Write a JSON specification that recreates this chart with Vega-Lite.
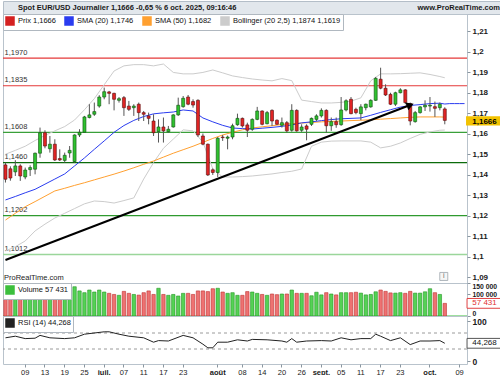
{
"$schema":"https://vega.github.io/schema/vega-lite/v6.json",
"padding":0,
"background":"#ffffff",
"spacing":0,
"bounds":"flush",
"config":{
 "font":"Liberation Sans",
 "view":{"stroke":"#b9c3cc"},
 "axis":{"labelFont":"Liberation Sans","labelFontSize":8,"labelColor":"#1a1a1a","tickColor":"#8a96a0","tickSize":3,"domain":false,"grid":false,"labelPadding":2,"labelOverlap":false},
 "legend":{"orient":"top-left","direction":"horizontal","offset":0,"padding":2,"fillColor":"#ffffff","strokeColor":"#b0b8c0","labelFont":"Liberation Sans","labelFontSize":7.5,"labelColor":"#111111","columnPadding":6,"labelOffset":3,"cornerRadius":0}
},
"datasets":{
 "ohlc":[
  {"d":"2025-06-03","o":1.1449,"h":1.1460,"l":1.1363,"c":1.1379,"v":110000},
  {"d":"2025-06-04","o":1.1430,"h":1.1442,"l":1.1372,"c":1.1385,"v":105000},
  {"d":"2025-06-05","o":1.1415,"h":1.1472,"l":1.1395,"c":1.1444,"v":100000},
  {"d":"2025-06-06","o":1.1444,"h":1.1452,"l":1.1371,"c":1.1395,"v":108000},
  {"d":"2025-06-09","o":1.1390,"h":1.1436,"l":1.1379,"c":1.1424,"v":95000},
  {"d":"2025-06-10","o":1.1426,"h":1.1447,"l":1.1395,"c":1.1436,"v":98000},
  {"d":"2025-06-11","o":1.1428,"h":1.1509,"l":1.1403,"c":1.1506,"v":112000},
  {"d":"2025-06-12","o":1.1506,"h":1.1631,"l":1.1484,"c":1.1606,"v":125000},
  {"d":"2025-06-13","o":1.1606,"h":1.1618,"l":1.1530,"c":1.1541,"v":115000},
  {"d":"2025-06-16","o":1.1528,"h":1.1590,"l":1.1509,"c":1.1550,"v":100000},
  {"d":"2025-06-17","o":1.1550,"h":1.1574,"l":1.1468,"c":1.1473,"v":112000},
  {"d":"2025-06-18","o":1.1480,"h":1.1525,"l":1.1468,"c":1.1473,"v":98000},
  {"d":"2025-06-19","o":1.1471,"h":1.1509,"l":1.1460,"c":1.1496,"v":90000},
  {"d":"2025-06-20","o":1.1507,"h":1.1541,"l":1.1484,"c":1.1520,"v":100000},
  {"d":"2025-06-23","o":1.1465,"h":1.1598,"l":1.1460,"c":1.1595,"v":133000},
  {"d":"2025-06-24","o":1.1595,"h":1.1623,"l":1.1585,"c":1.1608,"v":114000},
  {"d":"2025-06-25","o":1.1608,"h":1.1688,"l":1.1606,"c":1.1683,"v":106000},
  {"d":"2025-06-26","o":1.1680,"h":1.1745,"l":1.1676,"c":1.1693,"v":118000},
  {"d":"2025-06-27","o":1.1696,"h":1.1753,"l":1.1688,"c":1.1709,"v":109000},
  {"d":"2025-06-30","o":1.1736,"h":1.1789,"l":1.1728,"c":1.1780,"v":118000},
  {"d":"2025-07-01","o":1.1780,"h":1.1826,"l":1.1769,"c":1.1806,"v":109000},
  {"d":"2025-07-02","o":1.1805,"h":1.1810,"l":1.1745,"c":1.1798,"v":103000},
  {"d":"2025-07-03","o":1.1798,"h":1.1801,"l":1.1715,"c":1.1769,"v":98000},
  {"d":"2025-07-04","o":1.1764,"h":1.1780,"l":1.1753,"c":1.1772,"v":94000},
  {"d":"2025-07-07","o":1.1777,"h":1.1785,"l":1.1688,"c":1.1728,"v":112000},
  {"d":"2025-07-08","o":1.1736,"h":1.1761,"l":1.1712,"c":1.1720,"v":103000},
  {"d":"2025-07-09","o":1.1728,"h":1.1745,"l":1.1688,"c":1.1736,"v":98000},
  {"d":"2025-07-10","o":1.1745,"h":1.1753,"l":1.1663,"c":1.1704,"v":95000},
  {"d":"2025-07-11","o":1.1704,"h":1.1712,"l":1.1663,"c":1.1696,"v":106000},
  {"d":"2025-07-14","o":1.1688,"h":1.1704,"l":1.1647,"c":1.1676,"v":114000},
  {"d":"2025-07-15","o":1.1663,"h":1.1696,"l":1.1590,"c":1.1606,"v":98000},
  {"d":"2025-07-16","o":1.1611,"h":1.1671,"l":1.1558,"c":1.1634,"v":126000},
  {"d":"2025-07-17","o":1.1634,"h":1.1680,"l":1.1558,"c":1.1615,"v":98000},
  {"d":"2025-07-18","o":1.1611,"h":1.1639,"l":1.1606,"c":1.1623,"v":94000},
  {"d":"2025-07-21","o":1.1634,"h":1.1696,"l":1.1631,"c":1.1693,"v":98000},
  {"d":"2025-07-22","o":1.1693,"h":1.1777,"l":1.1688,"c":1.1740,"v":91000},
  {"d":"2025-07-23","o":1.1733,"h":1.1785,"l":1.1728,"c":1.1774,"v":103000},
  {"d":"2025-07-24","o":1.1780,"h":1.1790,"l":1.1740,"c":1.1745,"v":103000},
  {"d":"2025-07-25","o":1.1758,"h":1.1769,"l":1.1728,"c":1.1741,"v":98000},
  {"d":"2025-07-28","o":1.1764,"h":1.1769,"l":1.1585,"c":1.1595,"v":114000},
  {"d":"2025-07-29","o":1.1590,"h":1.1602,"l":1.1545,"c":1.1550,"v":114000},
  {"d":"2025-07-30","o":1.1550,"h":1.1553,"l":1.1395,"c":1.1400,"v":111000},
  {"d":"2025-07-31","o":1.1425,"h":1.1432,"l":1.1400,"c":1.1412,"v":124000},
  {"d":"2025-08-01","o":1.1412,"h":1.1585,"l":1.1390,"c":1.1579,"v":126000},
  {"d":"2025-08-04","o":1.1585,"h":1.1595,"l":1.1566,"c":1.1582,"v":109000},
  {"d":"2025-08-05","o":1.1579,"h":1.1592,"l":1.1525,"c":1.1585,"v":103000},
  {"d":"2025-08-06","o":1.1585,"h":1.1650,"l":1.1574,"c":1.1640,"v":106000},
  {"d":"2025-08-07","o":1.1645,"h":1.1699,"l":1.1640,"c":1.1676,"v":94000},
  {"d":"2025-08-08","o":1.1676,"h":1.1680,"l":1.1631,"c":1.1639,"v":94000},
  {"d":"2025-08-11","o":1.1644,"h":1.1655,"l":1.1585,"c":1.1618,"v":111000},
  {"d":"2025-08-12","o":1.1623,"h":1.1676,"l":1.1615,"c":1.1671,"v":109000},
  {"d":"2025-08-13","o":1.1671,"h":1.1732,"l":1.1667,"c":1.1712,"v":103000},
  {"d":"2025-08-14","o":1.1712,"h":1.1715,"l":1.1642,"c":1.1647,"v":98000},
  {"d":"2025-08-15","o":1.1650,"h":1.1712,"l":1.1647,"c":1.1704,"v":94000},
  {"d":"2025-08-18","o":1.1715,"h":1.1720,"l":1.1639,"c":1.1663,"v":100000},
  {"d":"2025-08-19","o":1.1667,"h":1.1671,"l":1.1644,"c":1.1647,"v":97000},
  {"d":"2025-08-20","o":1.1642,"h":1.1680,"l":1.1631,"c":1.1655,"v":100000},
  {"d":"2025-08-21","o":1.1655,"h":1.1663,"l":1.1606,"c":1.1615,"v":100000},
  {"d":"2025-08-22","o":1.1618,"h":1.1745,"l":1.1611,"c":1.1715,"v":118000},
  {"d":"2025-08-25","o":1.1715,"h":1.1720,"l":1.1611,"c":1.1615,"v":103000},
  {"d":"2025-08-26","o":1.1618,"h":1.1647,"l":1.1610,"c":1.1634,"v":103000},
  {"d":"2025-08-27","o":1.1639,"h":1.1647,"l":1.1569,"c":1.1623,"v":103000},
  {"d":"2025-08-28","o":1.1647,"h":1.1680,"l":1.1639,"c":1.1676,"v":92000},
  {"d":"2025-08-29","o":1.1671,"h":1.1696,"l":1.1663,"c":1.1688,"v":108000},
  {"d":"2025-09-01","o":1.1688,"h":1.1725,"l":1.1680,"c":1.1715,"v":96000},
  {"d":"2025-09-02","o":1.1715,"h":1.1720,"l":1.1606,"c":1.1640,"v":106000},
  {"d":"2025-09-03","o":1.1640,"h":1.1680,"l":1.1615,"c":1.1660,"v":100000},
  {"d":"2025-09-04","o":1.1660,"h":1.1680,"l":1.1630,"c":1.1645,"v":96000},
  {"d":"2025-09-05","o":1.1645,"h":1.1780,"l":1.1640,"c":1.1717,"v":106000},
  {"d":"2025-09-08","o":1.1717,"h":1.1769,"l":1.1710,"c":1.1762,"v":106000},
  {"d":"2025-09-09","o":1.1769,"h":1.1780,"l":1.1696,"c":1.1699,"v":106000},
  {"d":"2025-09-10","o":1.1720,"h":1.1728,"l":1.1696,"c":1.1704,"v":108000},
  {"d":"2025-09-11","o":1.1699,"h":1.1745,"l":1.1667,"c":1.1732,"v":104000},
  {"d":"2025-09-12","o":1.1728,"h":1.1748,"l":1.1715,"c":1.1745,"v":96000},
  {"d":"2025-09-15","o":1.1732,"h":1.1769,"l":1.1728,"c":1.1764,"v":98000},
  {"d":"2025-09-16","o":1.1764,"h":1.1878,"l":1.1761,"c":1.1871,"v":110000},
  {"d":"2025-09-17","o":1.1867,"h":1.1923,"l":1.1818,"c":1.1823,"v":118000},
  {"d":"2025-09-18","o":1.1823,"h":1.1842,"l":1.1785,"c":1.1790,"v":112000},
  {"d":"2025-09-19","o":1.1793,"h":1.1801,"l":1.1741,"c":1.1745,"v":105000},
  {"d":"2025-09-22","o":1.1745,"h":1.1806,"l":1.1736,"c":1.1801,"v":104000},
  {"d":"2025-09-23","o":1.1801,"h":1.1823,"l":1.1798,"c":1.1815,"v":106000},
  {"d":"2025-09-24","o":1.1815,"h":1.1818,"l":1.1745,"c":1.1753,"v":103000},
  {"d":"2025-09-25","o":1.1748,"h":1.1753,"l":1.1642,"c":1.1663,"v":112000},
  {"d":"2025-09-26","o":1.1660,"h":1.1712,"l":1.1655,"c":1.1704,"v":104000},
  {"d":"2025-09-29","o":1.1704,"h":1.1736,"l":1.1699,"c":1.1732,"v":104000},
  {"d":"2025-09-30","o":1.1732,"h":1.1764,"l":1.1712,"c":1.1740,"v":110000},
  {"d":"2025-10-01","o":1.1736,"h":1.1780,"l":1.1709,"c":1.1740,"v":124000},
  {"d":"2025-10-02","o":1.1733,"h":1.1758,"l":1.1683,"c":1.1725,"v":106000},
  {"d":"2025-10-03","o":1.1728,"h":1.1753,"l":1.1715,"c":1.1745,"v":98000},
  {"d":"2025-10-06","o":1.1722,"h":1.1730,"l":1.1647,"c":1.1666,"v":57431}
 ],
 "ind":[
  {"d":"2025-06-03","s20":1.1278,"s50":1.1180,"bu":1.1501,"bl":1.1029},
  {"d":"2025-06-05","s20":1.1295,"s50":1.1213,"bu":1.1520,"bl":1.1050},
  {"d":"2025-06-09","s20":1.1313,"s50":1.1245,"bu":1.1540,"bl":1.1078},
  {"d":"2025-06-11","s20":1.1330,"s50":1.1270,"bu":1.1568,"bl":1.1127},
  {"d":"2025-06-13","s20":1.1355,"s50":1.1296,"bu":1.1593,"bl":1.1160},
  {"d":"2025-06-17","s20":1.1380,"s50":1.1322,"bu":1.1615,"bl":1.1190},
  {"d":"2025-06-19","s20":1.1405,"s50":1.1335,"bu":1.1636,"bl":1.1213},
  {"d":"2025-06-23","s20":1.1444,"s50":1.1349,"bu":1.1668,"bl":1.1236},
  {"d":"2025-06-25","s20":1.1483,"s50":1.1362,"bu":1.1718,"bl":1.1259},
  {"d":"2025-06-27","s20":1.1525,"s50":1.1376,"bu":1.1772,"bl":1.1273},
  {"d":"2025-07-01","s20":1.1566,"s50":1.1390,"bu":1.1840,"bl":1.1270},
  {"d":"2025-07-03","s20":1.1608,"s50":1.1404,"bu":1.1907,"bl":1.1263},
  {"d":"2025-07-07","s20":1.1641,"s50":1.1419,"bu":1.1932,"bl":1.1275},
  {"d":"2025-07-09","s20":1.1666,"s50":1.1435,"bu":1.1938,"bl":1.1288},
  {"d":"2025-07-11","s20":1.1685,"s50":1.1452,"bu":1.1938,"bl":1.1380},
  {"d":"2025-07-15","s20":1.1698,"s50":1.1468,"bu":1.1932,"bl":1.1460},
  {"d":"2025-07-17","s20":1.1703,"s50":1.1487,"bu":1.1941,"bl":1.1530},
  {"d":"2025-07-21","s20":1.1707,"s50":1.1506,"bu":1.1900,"bl":1.1575},
  {"d":"2025-07-23","s20":1.1717,"s50":1.1523,"bu":1.1893,"bl":1.1620},
  {"d":"2025-07-25","s20":1.1712,"s50":1.1540,"bu":1.1893,"bl":1.1615},
  {"d":"2025-07-29","s20":1.1678,"s50":1.1559,"bu":1.1900,"bl":1.1560},
  {"d":"2025-07-31","s20":1.1659,"s50":1.1578,"bu":1.1912,"bl":1.1430},
  {"d":"2025-08-04","s20":1.1642,"s50":1.1595,"bu":1.1898,"bl":1.1390},
  {"d":"2025-08-06","s20":1.1629,"s50":1.1608,"bu":1.1883,"bl":1.1390},
  {"d":"2025-08-08","s20":1.1626,"s50":1.1620,"bu":1.1875,"bl":1.1392},
  {"d":"2025-08-12","s20":1.1624,"s50":1.1629,"bu":1.1868,"bl":1.1395},
  {"d":"2025-08-14","s20":1.1628,"s50":1.1635,"bu":1.1863,"bl":1.1400},
  {"d":"2025-08-18","s20":1.1632,"s50":1.1640,"bu":1.1859,"bl":1.1405},
  {"d":"2025-08-20","s20":1.1637,"s50":1.1646,"bu":1.1870,"bl":1.1412},
  {"d":"2025-08-22","s20":1.1644,"s50":1.1650,"bu":1.1860,"bl":1.1418},
  {"d":"2025-08-26","s20":1.1654,"s50":1.1653,"bu":1.1765,"bl":1.1429},
  {"d":"2025-08-28","s20":1.1659,"s50":1.1656,"bu":1.1758,"bl":1.1540},
  {"d":"2025-09-01","s20":1.1665,"s50":1.1659,"bu":1.1751,"bl":1.1560},
  {"d":"2025-09-03","s20":1.1670,"s50":1.1661,"bu":1.1751,"bl":1.1565},
  {"d":"2025-09-05","s20":1.1674,"s50":1.1663,"bu":1.1754,"bl":1.1566},
  {"d":"2025-09-09","s20":1.1676,"s50":1.1665,"bu":1.1760,"bl":1.1566},
  {"d":"2025-09-11","s20":1.1678,"s50":1.1667,"bu":1.1776,"bl":1.1566},
  {"d":"2025-09-15","s20":1.1691,"s50":1.1669,"bu":1.1859,"bl":1.1560},
  {"d":"2025-09-17","s20":1.1705,"s50":1.1672,"bu":1.1893,"bl":1.1532},
  {"d":"2025-09-19","s20":1.1718,"s50":1.1675,"bu":1.1893,"bl":1.1540},
  {"d":"2025-09-23","s20":1.1731,"s50":1.1678,"bu":1.1894,"bl":1.1556},
  {"d":"2025-09-25","s20":1.1739,"s50":1.1681,"bu":1.1896,"bl":1.1578},
  {"d":"2025-09-29","s20":1.1743,"s50":1.1683,"bu":1.1898,"bl":1.1598},
  {"d":"2025-10-01","s20":1.1748,"s50":1.1683,"bu":1.1890,"bl":1.1610},
  {"d":"2025-10-03","s20":1.1750,"s50":1.1683,"bu":1.1880,"bl":1.1618},
  {"d":"2025-10-06","s20":1.1746,"s50":1.1682,"bu":1.1874,"bl":1.1619},
  {"d":"2025-10-07","s20":1.1748},
  {"d":"2025-10-08","s20":1.1748},
  {"d":"2025-10-09","s20":1.1748},
  {"d":"2025-10-10","s20":1.1748}
 ],
 "rsi":[
  {"d":"2025-06-03","r":58},{"d":"2025-06-05","r":62},{"d":"2025-06-09","r":56},{"d":"2025-06-11","r":57},
  {"d":"2025-06-12","r":64},{"d":"2025-06-16","r":58},{"d":"2025-06-19","r":56},{"d":"2025-06-23","r":58},
  {"d":"2025-06-25","r":67},{"d":"2025-07-01","r":73},{"d":"2025-07-02","r":73},{"d":"2025-07-04","r":67},
  {"d":"2025-07-08","r":62},{"d":"2025-07-11","r":58},{"d":"2025-07-15","r":47},{"d":"2025-07-16","r":51},
  {"d":"2025-07-18","r":50},{"d":"2025-07-23","r":64},{"d":"2025-07-25","r":58},{"d":"2025-07-29","r":42},
  {"d":"2025-07-30","r":33},{"d":"2025-07-31","r":33},{"d":"2025-08-01","r":47},{"d":"2025-08-05","r":47},
  {"d":"2025-08-07","r":53},{"d":"2025-08-11","r":50},{"d":"2025-08-12","r":54},{"d":"2025-08-15","r":53},
  {"d":"2025-08-20","r":50},{"d":"2025-08-21","r":47},{"d":"2025-08-22","r":56},{"d":"2025-08-25","r":47},
  {"d":"2025-08-27","r":50},{"d":"2025-09-01","r":51},{"d":"2025-09-03","r":50},{"d":"2025-09-05","r":58},
  {"d":"2025-09-09","r":53},{"d":"2025-09-11","r":56},{"d":"2025-09-15","r":56},{"d":"2025-09-16","r":67},
  {"d":"2025-09-17","r":62},{"d":"2025-09-19","r":51},{"d":"2025-09-23","r":58},{"d":"2025-09-25","r":41},
  {"d":"2025-09-29","r":50},{"d":"2025-10-01","r":50},{"d":"2025-10-03","r":51},{"d":"2025-10-06","r":44.268}
 ],
 "levels":[
  {"lv":1.1970,"lab":"1,1970","k":"r"},
  {"lv":1.1835,"lab":"1,1835","k":"r"},
  {"lv":1.1608,"lab":"1,1608","k":"g2"},
  {"lv":1.1460,"lab":"1,1460","k":"g3"},
  {"lv":1.1202,"lab":"1,1202","k":"g1"},
  {"lv":1.1012,"lab":"1,1012","k":"g4"}
 ],
 "trend":[
  {"d":"2025-06-03","p":1.0985},
  {"d":"2025-09-25","p":1.1741}
 ]
},
"resolve":{"scale":{"x":"independent","y":"independent"}},
"vconcat":[
 {
  "width":500,"height":13,
  "view":{"fill":"#e2e7ec","stroke":"#b4bec8"},
  "data":{"values":[{"side":"l","t":"Spot EUR/USD Journalier 1,1666 -0,65 % 6 oct. 2025, 09:16:46"},{"side":"r","t":"www.ProRealTime.com"}]},
  "layer":[
   {"transform":[{"filter":"datum.side == 'l'"}],
    "mark":{"type":"text","align":"left","baseline":"middle","fontWeight":"bold","fontSize":7.5,"color":"#1a1a1a"},
    "encoding":{"x":{"field":"side","type":"nominal","scale":{"type":"point","domain":["l","r"],"range":[15,497],"padding":0},"axis":null},"text":{"field":"t"}}},
   {"transform":[{"filter":"datum.side == 'r'"}],
    "mark":{"type":"text","align":"right","baseline":"middle","fontWeight":"bold","fontSize":7.5,"color":"#1a1a1a"},
    "encoding":{"x":{"field":"side","type":"nominal","scale":{"type":"point","domain":["l","r"],"range":[15,497],"padding":0},"axis":null},"text":{"field":"t"}}}
  ]
 },
 {
  "spacing":0,
  "bounds":"flush",
  "resolve":{"scale":{"x":"shared","y":"independent","color":"independent","stroke":"independent","strokeWidth":"independent"},"axis":{"x":"independent","y":"independent"},"legend":{"color":"independent"}},
  "vconcat":[
   {
    "width":464,"height":269,
    "layer":[
     {"data":{"name":"levels"},"mark":{"type":"rule"},
      "encoding":{
       "y":{"field":"lv","type":"quantitative","scale":{"domain":[1.0873,1.2185],"nice":false,"zero":false},
            "axis":{"orient":"right","title":null,"values":[1.09,1.1,1.11,1.12,1.13,1.14,1.15,1.16,1.17,1.18,1.19,1.2,1.21],"tickCount":100,"labelExpr":"replace(format(datum.value,'.2~f'),'.',',')","labelFontWeight":"bold","labelOverlap":false}},
       "stroke":{"field":"k","type":"nominal","scale":{"domain":["r","g1","g2","g3","g4"],"range":["#e53838","#2f9a2f","#3aa03a","#0b6b0b","#9bd69b"]},"legend":null},
       "strokeWidth":{"field":"k","type":"ordinal","scale":{"domain":["r","g1","g2","g3","g4"],"range":[1.2,1.5,2.2,1.5,2]},"legend":null}}},
     {"data":{"name":"levels"},"mark":{"type":"text","align":"left","baseline":"bottom","dx":-1,"dy":-1.5,"fontSize":7.5,"color":"#333333"},
      "encoding":{"x":{"datum":"2025-06-03","type":"ordinal","scale":{"type":"band","paddingInner":0,"paddingOuter":0},"axis":null},"y":{"field":"lv","type":"quantitative"},"text":{"field":"lab"}}},
     {"data":{"name":"ind"},"mark":{"type":"line","strokeWidth":1},
      "encoding":{"x":{"field":"d","type":"ordinal","scale":{"type":"band","paddingInner":0,"paddingOuter":0},"axis":null},"y":{"field":"bu","type":"quantitative"},
       "color":{"datum":"Bollinger (20 2,5) 1,1874 1,1619","scale":{"domain":["Prix 1,1666","SMA (20) 1,1746","SMA (50) 1,1682","Bollinger (20 2,5) 1,1874 1,1619"],"range":["#d42020","#2a3cf0","#ffa030","#cccccc"]},
        "legend":{"title":null,"symbolType":"M-1,-1H1V1H-1Z M-0.75,-0.75H0.75V0.75H-0.75Z M-0.5,-0.5H0.5V0.5H-0.5Z M-0.25,-0.25H0.25V0.25H-0.25Z M-0.05,-0.05H0.05V0.05H-0.05Z","symbolSize":64}}}},
     {"data":{"name":"ind"},"mark":{"type":"line","strokeWidth":1},
      "encoding":{"x":{"field":"d","type":"ordinal","scale":{"type":"band","paddingInner":0,"paddingOuter":0},"axis":null},"y":{"field":"bl","type":"quantitative"},
       "color":{"datum":"Bollinger (20 2,5) 1,1874 1,1619"}}},
     {"data":{"name":"ind"},"mark":{"type":"line","strokeWidth":1},
      "encoding":{"x":{"field":"d","type":"ordinal","scale":{"type":"band","paddingInner":0,"paddingOuter":0},"axis":null},"y":{"field":"s50","type":"quantitative"},
       "color":{"datum":"SMA (50) 1,1682"}}},
     {"data":{"name":"ind"},"mark":{"type":"line","strokeWidth":1},
      "encoding":{"x":{"field":"d","type":"ordinal","scale":{"type":"band","paddingInner":0,"paddingOuter":0},"axis":null},"y":{"field":"s20","type":"quantitative"},
       "color":{"datum":"SMA (20) 1,1746"}}},
     {"data":{"name":"ohlc"},"mark":{"type":"rule","color":"#555555","strokeWidth":1},
      "encoding":{"x":{"field":"d","type":"ordinal","scale":{"type":"band","paddingInner":0,"paddingOuter":0},"axis":null},"y":{"field":"l","type":"quantitative"},"y2":{"field":"h"}}},
     {"data":{"name":"ohlc"},"mark":{"type":"bar","size":3,"strokeWidth":0.6},
      "encoding":{"x":{"field":"d","type":"ordinal","scale":{"type":"band","paddingInner":0,"paddingOuter":0},"axis":null},"y":{"field":"o","type":"quantitative"},"y2":{"field":"c"},
       "fill":{"condition":{"test":"datum.c < datum.o","value":"#e02424"},"value":"#2fc22f"},
       "stroke":{"condition":{"test":"datum.c < datum.o","value":"#5a0d0d"},"value":"#0d4d0d"}}},
     {"data":{"name":"trend"},"mark":{"type":"line","color":"#000000","strokeWidth":2},
      "encoding":{"x":{"field":"d","type":"ordinal","scale":{"type":"band","paddingInner":0,"paddingOuter":0},"axis":null},"y":{"field":"p","type":"quantitative"}}},
     {"data":{"name":"trend"},"transform":[{"filter":"datum.d == '2025-09-25'"}],"mark":{"type":"point","shape":"triangle-right","filled":true,"color":"#000000","size":70,"angle":-21,"opacity":1},
      "encoding":{"x":{"field":"d","type":"ordinal","scale":{"type":"band","paddingInner":0,"paddingOuter":0},"axis":null},"y":{"field":"p","type":"quantitative"}}},
     {"data":{"values":[{"val":1.1666,"t":"1,1666"}]},"mark":{"type":"point","shape":"M-1,-0.25H1V0.25H-1Z","filled":true,"color":"#f2c200","size":1369,"xOffset":20,"yOffset":0.5,"opacity":1},
      "encoding":{"x":{"datum":"2025-10-10","type":"ordinal","scale":{"type":"band","paddingInner":0,"paddingOuter":0},"axis":null},"y":{"field":"val","type":"quantitative"}}},
     {"data":{"values":[{"val":1.1666,"t":"1,1666"}]},"mark":{"type":"text","xOffset":20,"dy":1.2,"fontWeight":"bold","fontSize":8,"color":"#000000","baseline":"middle","align":"center"},
      "encoding":{"x":{"datum":"2025-10-10","type":"ordinal","scale":{"type":"band","paddingInner":0,"paddingOuter":0},"axis":null},"y":{"field":"val","type":"quantitative"},"text":{"field":"t"}}},
     {"data":{"values":[{"val":1.0895,"t":"ProRealTime.com"}]},"mark":{"type":"text","align":"left","baseline":"middle","dx":-1.5,"fontSize":7.5,"color":"#222222"},
      "encoding":{"x":{"datum":"2025-06-03","type":"ordinal","scale":{"type":"band","paddingInner":0,"paddingOuter":0},"axis":null},"y":{"field":"val","type":"quantitative"},"text":{"field":"t"}}},
     {"data":{"values":[{"val":1.0905,"t":"i"}]},"mark":{"type":"point","shape":"square","filled":true,"fill":"#f6f6f6","stroke":"#9aa3ab","strokeWidth":0.8,"size":64,"xOffset":-1,"opacity":1},
      "encoding":{"x":{"datum":"2025-10-06","type":"ordinal","scale":{"type":"band","paddingInner":0,"paddingOuter":0},"axis":null},"y":{"field":"val","type":"quantitative"}}},
     {"data":{"values":[{"val":1.0905,"t":"i"}]},"mark":{"type":"text","xOffset":-1,"fontSize":7,"color":"#666666","baseline":"middle","align":"center"},
      "encoding":{"x":{"datum":"2025-10-06","type":"ordinal","scale":{"type":"band","paddingInner":0,"paddingOuter":0},"axis":null},"y":{"field":"val","type":"quantitative"},"text":{"field":"t"}}}
    ]
   },
   {
    "width":464,"height":33,
    "layer":[
     {"data":{"values":[{"z":0}]},"mark":{"type":"rule","strokeWidth":1},
      "encoding":{"y":{"field":"z","type":"quantitative","scale":{"domain":[0,150000],"nice":false},
        "axis":{"orient":"right","title":null,"values":[0,100000,150000],"tickCount":100,"labelExpr":"replace(format(datum.value,','),',',' ')","labelFlush":true,"labelFontWeight":"bold","labelFontSize":6.8,"labelOverlap":false}},
       "color":{"datum":"Volume 57 431","scale":{"range":["#3cbf3c"]},
        "legend":{"title":null,"symbolType":"M-1,-1H1V1H-1Z M-0.75,-0.75H0.75V0.75H-0.75Z M-0.5,-0.5H0.5V0.5H-0.5Z M-0.25,-0.25H0.25V0.25H-0.25Z M-0.05,-0.05H0.05V0.05H-0.05Z","symbolSize":64}}}},
     {"data":{"name":"ohlc"},"mark":{"type":"bar","size":3.4,"strokeWidth":0.6},
      "encoding":{"x":{"field":"d","type":"ordinal","scale":{"type":"band","paddingInner":0,"paddingOuter":0},"axis":null},"y":{"field":"v","type":"quantitative"},
       "fill":{"condition":{"test":"datum.c < datum.o","value":"#ee7272"},"value":"#55d255"},
       "stroke":{"condition":{"test":"datum.c < datum.o","value":"#c03030"},"value":"#239623"}}},
     {"data":{"values":[{"val":57431,"t":"57 431"}]},"mark":{"type":"point","shape":"M-1,-0.28H1V0.28H-1Z","filled":true,"fill":"#ffffff","stroke":"#e04040","strokeWidth":1,"size":1225,"xOffset":20,"opacity":1},
      "encoding":{"x":{"datum":"2025-10-10","type":"ordinal","scale":{"type":"band","paddingInner":0,"paddingOuter":0},"axis":null},"y":{"field":"val","type":"quantitative"}}},
     {"data":{"values":[{"val":57431,"t":"57 431"}]},"mark":{"type":"text","xOffset":20,"fontSize":8,"color":"#e03030","baseline":"middle","align":"center"},
      "encoding":{"x":{"datum":"2025-10-10","type":"ordinal","scale":{"type":"band","paddingInner":0,"paddingOuter":0},"axis":null},"y":{"field":"val","type":"quantitative"},"text":{"field":"t"}}}
    ]
   },
   {
    "width":464,"height":48,
    "layer":[
     {"data":{"values":[{"r":70},{"r":30}]},"mark":{"type":"rule","color":"#9a9a9a","strokeDash":[3,3],"strokeWidth":1},
      "encoding":{"y":{"field":"r","type":"quantitative","scale":{"domain":[-7.5,112.5],"nice":false,"zero":false},
        "axis":{"orient":"right","title":null,"values":[0,100],"tickCount":100,"labelFontWeight":"bold","labelFontSize":8.5,"labelOverlap":false}}}},
     {"data":{"name":"rsi"},"mark":{"type":"line","strokeWidth":1},
      "encoding":{"x":{"field":"d","type":"ordinal","scale":{"type":"band","paddingInner":0,"paddingOuter":0},
        "axis":{"title":null,"orient":"bottom","values":["2025-06-09","2025-06-13","2025-06-19","2025-06-25","2025-07-01","2025-07-07","2025-07-11","2025-07-17","2025-07-23","2025-08-01","2025-08-08","2025-08-14","2025-08-20","2025-08-26","2025-09-01","2025-09-05","2025-09-11","2025-09-17","2025-09-23","2025-10-01","2025-10-09"],
         "labelExpr":"slice(datum.value,8,10) == '01' ? ['janv.','févr.','mars','avr.','mai','juin','juil.','août','sept.','oct.','nov.','déc.'][toNumber(slice(datum.value,5,7)) - 1] : slice(datum.value,8,10)",
         "labelFontWeight":{"condition":{"test":"slice(datum.value,8,10) == '01'","value":"bold"},"value":"normal"},
         "labelAngle":0,"labelAlign":"center","labelBaseline":"top","labelOverlap":false,"labelBound":false,"labelPadding":1,"labelFontSize":7.5,"ticks":true,"tickSize":3}},
       "y":{"field":"r","type":"quantitative"},
       "color":{"datum":"RSI (14) 44,268","scale":{"range":["#222222"]},
        "legend":{"title":null,"symbolType":"M-1,-1H1V1H-1Z M-0.75,-0.75H0.75V0.75H-0.75Z M-0.5,-0.5H0.5V0.5H-0.5Z M-0.25,-0.25H0.25V0.25H-0.25Z M-0.05,-0.05H0.05V0.05H-0.05Z","symbolSize":64}}}},
     {"data":{"values":[{"val":44.268,"t":"44,268"}]},"mark":{"type":"point","shape":"M-1,-0.28H1V0.28H-1Z","filled":true,"fill":"#ffffff","stroke":"#555555","strokeWidth":1,"size":1225,"xOffset":20,"opacity":1},
      "encoding":{"x":{"datum":"2025-10-10","type":"ordinal","scale":{"type":"band","paddingInner":0,"paddingOuter":0}},"y":{"field":"val","type":"quantitative"}}},
     {"data":{"values":[{"val":44.268,"t":"44,268"}]},"mark":{"type":"text","xOffset":20,"fontSize":8,"color":"#111111","baseline":"middle","align":"center"},
      "encoding":{"x":{"datum":"2025-10-10","type":"ordinal","scale":{"type":"band","paddingInner":0,"paddingOuter":0}},"y":{"field":"val","type":"quantitative"},"text":{"field":"t"}}}
    ]
   }
  ]
 }
]
}
